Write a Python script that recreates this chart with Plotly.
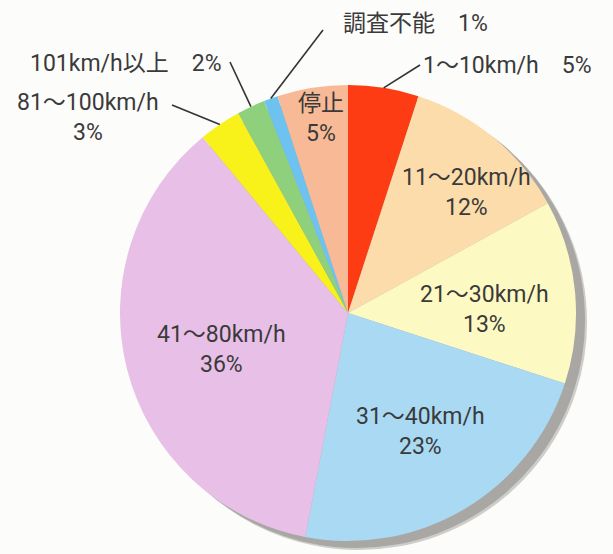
import math
import plotly.graph_objects as go

# ---- data ----
categories = ["1～10km/h", "11～20km/h", "21～30km/h", "31～40km/h", "41～80km/h",
              "81～100km/h", "101km/h以上", "調査不能", "停止"]
shares = [5, 12, 13, 23, 36, 3, 2, 1, 5]
colors = ["#fd3c14", "#fcdcaa", "#fdf9c2", "#a9d9f3", "#e7bfe7",
          "#f8f21a", "#8fd07c", "#6ec2ef", "#f8ba96"]

# ---- layout geometry (pixels) ----
W, H = 613, 554
CX, CY, R = 348, 313, 228
SHX, SHY = 9, 7
TEXT = "#3a3a3a"
FONT = "Roboto, 'Noto Sans CJK JP', sans-serif"
FS = 23
GAP = 15  # half distance between two stacked lines


def px(x):
    return x / W


def py(y):
    return 1 - y / H


def dom(cx, cy):
    return dict(x=[px(cx - R), px(cx + R)], y=[py(cy + R), py(cy - R)])


total = sum(shares)
mids = {}
cum = 0
for c, v in zip(categories, shares):
    mids[c] = (cum + v / 2) / total * 360
    cum += v


def polar(angle, frac):
    a = math.radians(angle)
    return CX + frac * R * math.sin(a), CY - frac * R * math.cos(a)


fig = go.Figure()
# soft drop shadow (two layers)
fig.add_trace(go.Pie(values=shares, labels=categories, sort=False, direction="clockwise",
                     rotation=0, domain=dom(CX + SHX + 2, CY + SHY + 2),
                     marker=dict(colors=["#cfcdc9"] * len(shares), line=dict(width=0)),
                     textinfo="none", hoverinfo="skip", showlegend=False))
fig.add_trace(go.Pie(values=shares, labels=categories, sort=False, direction="clockwise",
                     rotation=0, domain=dom(CX + SHX, CY + SHY),
                     marker=dict(colors=["#a9a7a3"] * len(shares), line=dict(width=0)),
                     textinfo="none", hoverinfo="skip", showlegend=False))
# main pie
fig.add_trace(go.Pie(values=shares, labels=categories, sort=False, direction="clockwise",
                     rotation=0, domain=dom(CX, CY),
                     marker=dict(colors=colors, line=dict(width=0)),
                     textinfo="none", showlegend=False))

annotations = []
shapes = []


def add_text(x, y, text, anchor="center"):
    annotations.append(dict(x=px(x), y=py(y), xref="paper", yref="paper",
                            text=text, showarrow=False, xanchor=anchor,
                            yanchor="middle", align="center",
                            borderpad=0, borderwidth=0,
                            font=dict(family=FONT, size=FS, color=TEXT)))


# inside labels: (angle offset, radius fraction)
inside = {
    "11～20km/h": (5, 0.74),
    "21～30km/h": (4, 0.60),
    "31～40km/h": (-1, 0.61),
    "41～80km/h": (-1.6, 0.575),
    "停止": (1, 0.86),
}
for c, (dth, fr) in inside.items():
    x, y = polar(mids[c] + dth, fr)
    v = shares[categories.index(c)]
    add_text(x, y - GAP, c)
    add_text(x, y + GAP, f"{v}%")

# outside labels: (text pos px, anchor, leader end px)
outside = {
    "1～10km/h": ((423, 65), "left", (420, 65)),
    "調査不能": ((343, 24), "left", (323, 30)),
    "101km/h以上": ((222, 63), "right", (230, 62)),
    "81～100km/h": ((88, 118), "center", (172, 105)),
}
for c, ((tx, ty), anc, (lx, ly)) in outside.items():
    v = shares[categories.index(c)]
    if anc == "center":
        add_text(tx, ty - GAP, c)
        add_text(tx, ty + GAP, f"{v}%")
    else:
        add_text(tx, ty, f"{c}\u3000{v}%", anc)
    ex, ey = polar(mids[c], 1.0)
    shapes.append(dict(type="line", xref="paper", yref="paper",
                       x0=px(ex), y0=py(ey), x1=px(lx), y1=py(ly),
                       line=dict(color="#333333", width=1.6)))

fig.update_layout(width=W, height=H, margin=dict(l=0, r=0, t=0, b=0),
                  paper_bgcolor="#fcfcfa", plot_bgcolor="#fcfcfa",
                  annotations=annotations, shapes=shapes, showlegend=False)

fig.write_html("out.html")
